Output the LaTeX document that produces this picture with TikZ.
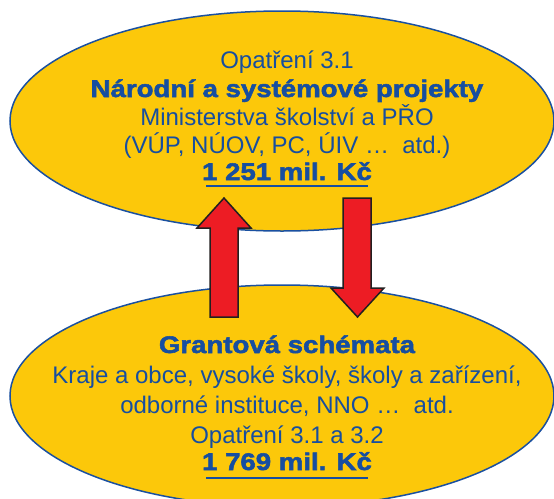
\documentclass[tikz,border=0pt]{standalone}
\usepackage{fontspec}
\setmainfont{Liberation Sans}
\newfontfamily\heavy[FakeStretch=1.15,FakeBold=2.2]{Liberation Sans Bold}
\usetikzlibrary{shapes.geometric}
\definecolor{fillyellow}{RGB}{252,200,10}
\definecolor{edgeblue}{RGB}{26,80,160}
\definecolor{textblue}{RGB}{22,78,160}
\definecolor{arrred}{RGB}{237,28,36}
\definecolor{arredge}{RGB}{35,31,32}
\tikzset{
  ell/.style={ellipse, draw=edgeblue, fill=fillyellow, line width=1.5pt, inner sep=0pt},
  txt/.style={anchor=base, text=textblue, inner sep=0pt, font=\fontsize{24}{29}\selectfont},
  btxt/.style={txt, font=\fontsize{24}{29}\selectfont\heavy},
  arr/.style={fill=arrred, draw=arredge, line width=1.5pt},
  uline/.style={draw=textblue, line width=2.5pt}
}
\begin{document}
\begin{tikzpicture}[x=1pt,y=-1pt]
\useasboundingbox (0,0) rectangle (554,498);
\clip (0,0) rectangle (554,498);
\fill[white] (0,0) rectangle (554,498);
\node[ell, minimum width=544pt, minimum height=220pt] (top) at (282,121) {};
\node[ell, minimum width=544pt, minimum height=222pt] (bot) at (282,396) {};
% arrows
\filldraw[arr] (210,317) -- (210,228) -- (197,228) -- (224,198) -- (251,228) -- (238,228) -- (238,317) -- cycle;
\filldraw[arr] (343,198) -- (371,198) -- (371,288) -- (384,288) -- (357.5,317) -- (331,288) -- (343,288) -- cycle;
% top text
\node[txt] (t1) at (287,68) {Opatření 3.1};
\node[btxt] (t2) at (287,97) {Národní a systémové projekty};
\node[txt] (t3) at (287,125) {Ministerstva školství a PŘO};
\node[txt] (t4) at (287,153) {(VÚP, NÚOV, PC, ÚIV …\ \ atd.)};
\node[btxt] (t5) at (287,180) {1 251 mil. Kč};
\draw[uline] (206,186) -- (368,186);
% bottom text
\node[btxt] (b1) at (287,353) {Grantová schémata};
\node[txt] (b2) at (287,383) {Kraje a obce, vysoké školy, školy a zařízení,};
\node[txt] (b3) at (287,413) {odborné instituce, NNO …\ \ atd.};
\node[txt] (b4) at (287,443) {Opatření 3.1 a 3.2};
\node[btxt] (b5) at (287,470) {1 769 mil. Kč};
\draw[uline] (206,478) -- (368,478);
\end{tikzpicture}
\end{document}
